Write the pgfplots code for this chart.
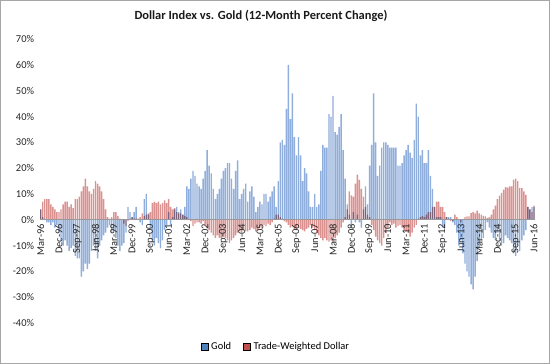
\documentclass[border=0pt]{standalone}
\usepackage{fontspec}
\setmainfont{Carlito}
\usepackage{pgfplots}
\usepackage{pgfplotstable}
\pgfplotsset{compat=1.18}
\definecolor{goldbar}{HTML}{8FAEDB}
\definecolor{dollarbar}{HTML}{DA9290}
\definecolor{goldleg}{HTML}{4F81BD}
\definecolor{dollarleg}{HTML}{C0504D}
\pgfplotstableread{
x g d
0 4 4
1 1 7
2 0 8
3 -1 8
4 -1 8
5 -2 6
6 -1 5
7 -3 4
8 -2 3
9 -5 3
10 -8 4
11 -10 6
12 -8 7
13 -10 7
14 -12 5
15 -11 6
16 -10 4.5
17 -14 8
18 -15 8
19 -15 9
20 -22 11
21 -20 13
22 -17 16
23 -19 13
24 -17 11
25 -12 10
26 -10 12
27 -12 15
28 -15 14
29 -10 13
30 -8 11
31 -6 8
32 -5 4
33 -3 1
34 -2 0.5
35 -5 1
36 -4 3
37 -7 3
38 -10 1.5
39 -12 0.5
40 -10 0
41 -9 -1.5
42 -5 -2.5
43 5 -0.5
44 3 0.5
45 1 1
46 3 0.5
47 5 0.5
48 0 0.5
49 -1 1
50 -2 2.5
51 8 1.5
52 10 2
53 2 2.5
54 -3 3
55 -8 6.5
56 -10 7
57 -7 6.5
58 -9 7
59 -11 6
60 -8 6.5
61 -4 7.5
62 -2 6.5
63 3 8
64 -2 5
65 1 4
66 4 4.5
67 5 3
68 3 2.5
69 4 2.5
70 2 2
71 5 1.5
72 13 1
73 12 0
74 16 -0.5
75 19 -2.5
76 17 -1.5
77 14 -1
78 13 -1
79 12 -1.5
80 16 -0.5
81 19 -2
82 27 -3
83 21 -4
84 18 -5
85 12 -6
86 8 -7
87 10 -6
88 12 -7
89 16 -7
90 19 -6.5
91 20 -7
92 22 -8
93 22 -9
94 16 -8
95 12 -7
96 19 -6
97 23 -5
98 8 -4.5
99 10 -5
100 12 -4
101 14 -4.5
102 7 -4.5
103 11 -4
104 13 -3
105 9 -3.5
106 3 -4.5
107 5 -4
108 7 -3
109 6 -3.5
110 10 -2
111 10 -2.5
112 7 -1.5
113 9 -2
114 11 -1
115 13 0.5
116 5 2
117 15 2
118 30 1
119 31 0.5
120 29 -0.5
121 43 -1
122 60 -2
123 39 -3
124 49 -2.5
125 32 -3.5
126 25 -4
127 32 -3
128 25 -3.5
129 15 -4
130 20 -4.5
131 18 -3.5
132 11 -3
133 5 -2
134 5 -3
135 10 -4
136 5 -5
137 6 -6
138 19 -7
139 29 -8
140 28 -7
141 28 -8
142 41 -8.5
143 40 -8
144 48 -9
145 34 -7
146 33 -6
147 36 -5
148 41 -3
149 27 -1
150 16 1
151 6 4
152 2 11
153 -3 9.5
154 3 9
155 -1 14
156 2 17.5
157 -1 15.5
158 -3 12
159 4 9
160 13 5
161 6 2
162 21 1
163 29 -2
164 49 -4
165 30 -6.5
166 17 -8
167 21 -9
168 28 -10
169 30 -7
170 30 -5
171 29 -3
172 28 -1
173 28 -2
174 28 -1.5
175 28 -3
176 21 -2.5
177 21 -2
178 22 -3
179 25 -4
180 27 -4.5
181 29 -5
182 26 -6.5
183 24 -5
184 31 -3
185 45 -2
186 40 0.5
187 25 1
188 27 1.5
189 22 1
190 22 2
191 27 3
192 17 3
193 12 5
194 5 5
195 1 7
196 1 7
197 1 5
198 -3 5
199 -3 3
200 1 1
201 1 0.5
202 1 -0.5
203 -1 -0.5
204 -2 2
205 -5 1
206 -10 0
207 -8 -1
208 -13 0
209 -17 1
210 -20 1.3
211 -22 1.3
212 -25 2.6
213 -27 3
214 -22 2.5
215 -16 3.6
216 -11 2.5
217 -8 2
218 -7 1.5
219 -4 1.3
220 -1 0.7
221 -3 1
222 -5 2
223 -7 4
224 -8 5.5
225 -5 8
226 -8 9.4
227 -10 10.4
228 -9 11.7
229 -6 12.7
230 -7 12.5
231 -8 13
232 -9 13
233 -13 15.6
234 -14 16
235 -10 15
236 -12 12.3
237 -8 12.3
238 -6 11
239 -4 9.7
240 5 5
241 4 4
242 5 3
243 5 5.5
}\datatable
\begin{document}
\begin{tikzpicture}
\useasboundingbox (0,0) rectangle (550bp,364bp);
\draw[black!35, line width=0.8pt] (0.5bp,0.5bp) rectangle (549.5bp,363.5bp);
\node[font=\fontsize{12.5}{14}\selectfont\bfseries, text=black!90] at (261bp,348bp) {Dollar Index vs. Gold (12-Month Percent Change)};
\begin{axis}[
  at={(39.7bp,41bp)}, anchor=south west,
  scale only axis, width=495.3bp, height=283.8bp,
  xmin=-0.5, xmax=243.5, ymin=-40, ymax=70,
  axis on top,
  axis x line=middle, axis y line=left,
  hide obscured x ticks=false, hide obscured y ticks=false,
  x axis line style={-, draw=black!40, line width=0.9pt},
  y axis line style={draw=none},
  tick style={draw=none},
  xtick={0,9,...,243},
  xticklabels={Mar-96,Dec-96,Sep-97,Jun-98,Mar-99,Dec-99,Sep-00,Jun-01,Mar-02,Dec-02,Sep-03,Jun-04,Mar-05,Dec-05,Sep-06,Jun-07,Mar-08,Dec-08,Sep-09,Jun-10,Mar-11,Dec-11,Sep-12,Jun-13,Mar-14,Dec-14,Sep-15,Jun-16},
  xticklabel style={rotate=90, anchor=east, font=\fontsize{10.5}{12}\selectfont, text=black!85, inner sep=2pt},
  ytick={-40,-30,...,70},
  yticklabel={\pgfmathprintnumber{\tick}\%},
  yticklabel style={font=\fontsize{10.5}{12}\selectfont, text=black!85},
  /pgf/number format/assume math mode=true,
  legend style={at={(0.477,-0.083)}, anchor=center, draw=none, fill=none,
    font=\fontsize{10.5}{12}\selectfont, legend columns=2,
    /tikz/every odd column/.append style={column sep=1pt},
    /tikz/every even column/.append style={column sep=10pt}},
  legend image code/.code={\fill[#1] (0bp,-3.5bp) rectangle (7bp,3.5bp);},
]
\addlegendimage{fill=goldleg}
\addlegendentry{Gold}
\addlegendimage{fill=dollarleg}
\addlegendentry{Trade-Weighted Dollar}
\addplot[ybar, bar width=0.7, bar shift=0pt, fill=goldbar, draw=none, forget plot] table[x=x, y=g] {\datatable};
\addplot[ybar, bar width=0.7, bar shift=0pt, fill=dollarbar, draw=none, blend mode=multiply, forget plot] table[x=x, y=d] {\datatable};
\end{axis}
\end{tikzpicture}
\end{document}
